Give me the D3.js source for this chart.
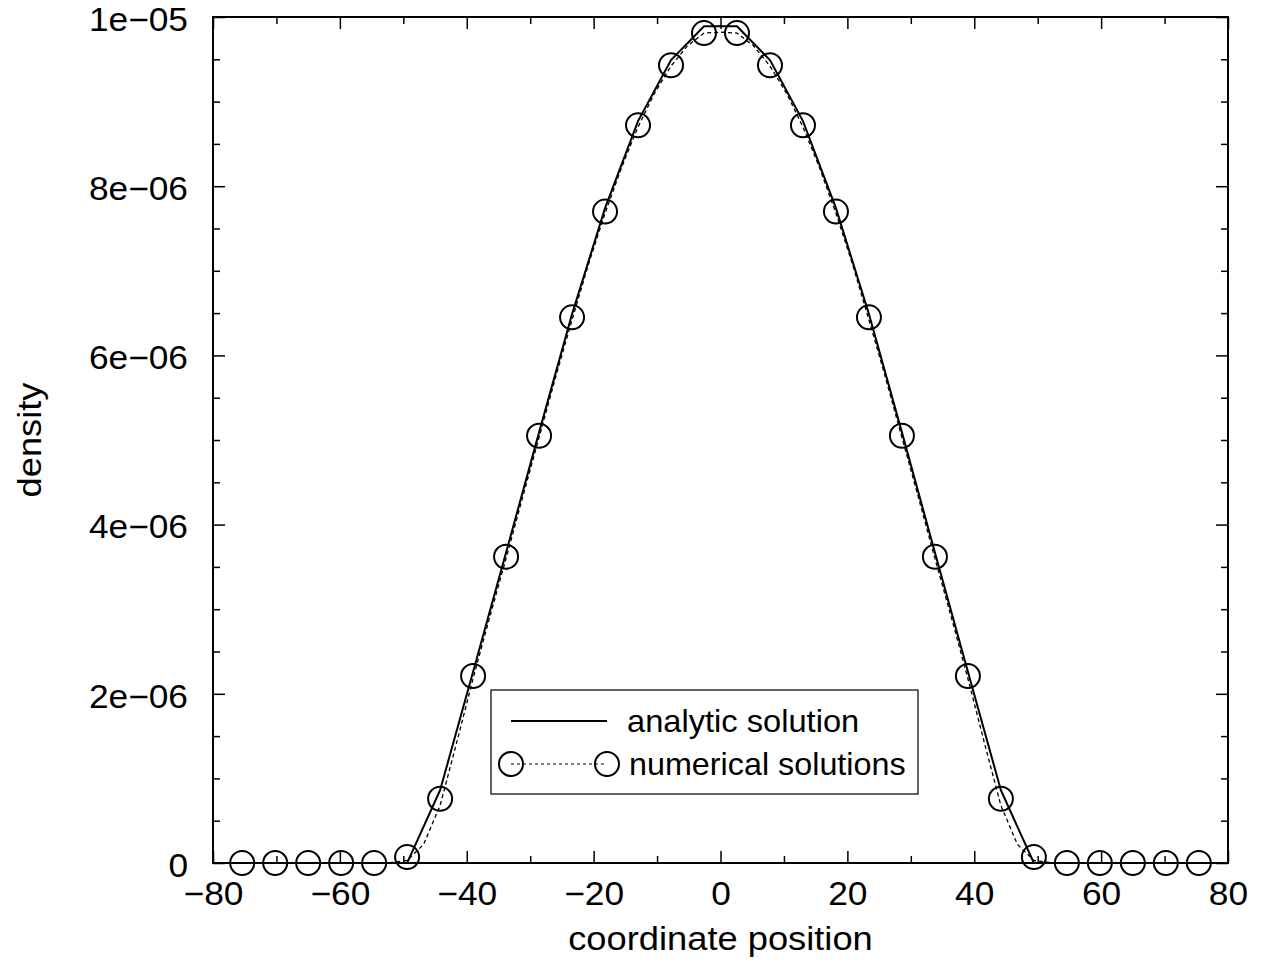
<!DOCTYPE html>
<html>
<head>
<meta charset="utf-8">
<script src="https://cdn.jsdelivr.net/npm/d3@7/dist/d3.min.js"></script>
<style>
  body { margin: 0; background: #fff; }
  svg text { font-family: "Liberation Sans", Arial, Helvetica, sans-serif; fill: #000; }
</style>
</head>
<body>
<div id="chart"></div>
<script>
// grid positions of the coarse numerical solution (circles)
const numX = [-75.4, -70.2, -65.0, -59.8, -54.6, -49.4, -44.2, -39.0, -33.8, -28.6, -23.4, -18.2, -13.0, -7.8, -2.6,
  2.6, 7.8, 13.0, 18.2, 23.4, 28.6, 33.8, 39.0, 44.2, 49.4, 54.6, 59.8, 65.0, 70.2, 75.4];
// density values (units of 1e-6)
const numY = [0, 0, 0, 0, 0, 0.07, 0.76, 2.21, 3.62, 5.05, 6.45, 7.70, 8.72, 9.43, 9.81,
  9.81, 9.43, 8.72, 7.70, 6.45, 5.05, 3.62, 2.21, 0.76, 0.07, 0, 0, 0, 0, 0];

// analytic solution, same grid
const anaY = [0, 0, 0, 0, 0, 0, 0.86, 2.26, 3.67, 5.09, 6.49, 7.74, 8.77, 9.49, 9.89,
  9.89, 9.49, 8.77, 7.74, 6.49, 5.09, 3.67, 2.26, 0.86, 0, 0, 0, 0, 0, 0];

// finer numerical solution (dashed)
const fineX = [-75.4, -54.6, -52.0, -49.4, -46.8, -44.2, -41.6, -39.0, -36.4, -33.8, -31.2, -28.6, -26.0, -23.4, -20.8,
  -18.2, -15.6, -13.0, -10.4, -7.8, -5.2, -2.6, 0, 2.6, 5.2, 7.8, 10.4, 13.0, 15.6, 18.2, 20.8, 23.4, 26.0,
  28.6, 31.2, 33.8, 36.4, 39.0, 41.6, 44.2, 46.8, 49.4, 52.0, 54.6, 75.4];
const fineY = [0, 0, 0.005, 0.03, 0.22, 0.68, 1.42, 2.18, 2.90, 3.60, 4.32, 5.03, 5.74, 6.42, 7.08,
  7.68, 8.22, 8.70, 9.10, 9.42, 9.66, 9.81, 9.82, 9.81, 9.66, 9.42, 9.10, 8.70, 8.22, 7.68, 7.08, 6.42, 5.74,
  5.03, 4.32, 3.60, 2.90, 2.18, 1.42, 0.68, 0.22, 0.03, 0.005, 0, 0];

const xMajor = [-80, -60, -40, -20, 0, 20, 40, 60, 80];
const xMajorLabels = ["\u221280", "\u221260", "\u221240", "\u221220", "0", "20", "40", "60", "80"];
const xMinor = [-70, -50, -30, -10, 10, 30, 50, 70];
const yMajor = [0, 2e-6, 4e-6, 6e-6, 8e-6, 1e-5];
const yMajorLabels = ["0", "2e\u221206", "4e\u221206", "6e\u221206", "8e\u221206", "1e\u221205"];
const yMinor = [0.5e-6, 1e-6, 1.5e-6, 2.5e-6, 3e-6, 3.5e-6, 4.5e-6, 5e-6, 5.5e-6, 6.5e-6, 7e-6, 7.5e-6,
  8.5e-6, 9e-6, 9.5e-6];

const width = 1263, height = 968;
const margin = { top: 17, right: 35, bottom: 105, left: 213 };
const iw = width - margin.left - margin.right;
const ih = height - margin.top - margin.bottom;
const fs = 33;
const stretch = 1.07; // the original font is a bit wider than Liberation Sans

const svg = d3.select('#chart').append('svg')
  .attr('width', width).attr('height', height);
const g = svg.append('g').attr('transform', `translate(${margin.left},${margin.top})`);

const x = d3.scaleLinear().domain([-80, 80]).range([0, iw]);
const y = d3.scaleLinear().domain([0, 1e-5]).range([ih, 0]);

function styleAxis(sel, labels) {
  sel.select('.domain').remove();
  sel.selectAll('.tick line').attr('stroke', '#000').attr('stroke-width', 1.5);
  if (!labels) { sel.selectAll('.tick text').remove(); return; }
  sel.selectAll('.tick text')
    .attr('font-size', fs).attr('font-family', null)
    .each(function () {
      const t = d3.select(this);
      const tx = +t.attr('x') || 0;
      t.attr('x', tx / stretch).attr('transform', `scale(${stretch},1)`);
    });
}

// bottom / left labelled ticks
g.append('g').attr('transform', `translate(0,${ih})`)
  .call(d3.axisBottom(x).tickValues(xMajor).tickSizeInner(-12).tickSizeOuter(0).tickPadding(19)
    .tickFormat((d, i) => xMajorLabels[i]))
  .call(s => styleAxis(s, true));
g.append('g').attr('transform', `translate(0,${ih})`)
  .call(d3.axisBottom(x).tickValues(xMinor).tickSizeInner(-7).tickSizeOuter(0))
  .call(s => styleAxis(s, false));
g.append('g')
  .call(d3.axisLeft(y).tickValues(yMajor).tickSizeInner(-12).tickSizeOuter(0).tickPadding(25)
    .tickFormat((d, i) => yMajorLabels[i]))
  .call(s => styleAxis(s, true))
  .call(s => s.selectAll('.tick text').attr('dy', '0.4em'));
g.append('g')
  .call(d3.axisLeft(y).tickValues(yMinor).tickSizeInner(-7).tickSizeOuter(0))
  .call(s => styleAxis(s, false));

// mirrored ticks top / right
g.append('g').call(d3.axisTop(x).tickValues(xMajor).tickSizeInner(-12).tickSizeOuter(0)).call(s => styleAxis(s, false));
g.append('g').call(d3.axisTop(x).tickValues(xMinor).tickSizeInner(-7).tickSizeOuter(0)).call(s => styleAxis(s, false));
g.append('g').attr('transform', `translate(${iw},0)`)
  .call(d3.axisRight(y).tickValues(yMajor).tickSizeInner(-12).tickSizeOuter(0)).call(s => styleAxis(s, false));
g.append('g').attr('transform', `translate(${iw},0)`)
  .call(d3.axisRight(y).tickValues(yMinor).tickSizeInner(-7).tickSizeOuter(0)).call(s => styleAxis(s, false));

const ana = numX.map((d, i) => ({ x: d, y: anaY[i] * 1e-6 }));
const fine = fineX.map((d, i) => ({ x: d, y: fineY[i] * 1e-6 }));
const num = numX.map((d, i) => ({ x: d, y: numY[i] * 1e-6 }));

const line = d3.line().x(d => x(d.x)).y(d => y(d.y));

// fine numerical (dashed) and analytic (solid)
g.append('path').datum(fine).attr('d', line)
  .attr('fill', 'none').attr('stroke', '#000').attr('stroke-width', 1.3).attr('stroke-dasharray', '4,3');
g.append('path').datum(ana).attr('d', line)
  .attr('fill', 'none').attr('stroke', '#000').attr('stroke-width', 2);

g.selectAll('circle.num').data(num).enter().append('circle')
  .attr('class', 'num')
  .attr('cx', d => x(d.x)).attr('cy', d => y(d.y)).attr('r', 12)
  .attr('fill', 'none').attr('stroke', '#000').attr('stroke-width', 2);

// frame
g.append('rect').attr('width', iw).attr('height', ih)
  .attr('fill', 'none').attr('stroke', '#000').attr('stroke-width', 2);

// axis titles
svg.append('text').attr('transform', `translate(${margin.left + iw / 2},950) scale(1.1,1)`)
  .attr('text-anchor', 'middle').attr('font-size', fs).text('coordinate position');
svg.append('text').attr('transform', `translate(41,${margin.top + ih / 2}) rotate(-90) scale(1.1,1)`)
  .attr('text-anchor', 'middle').attr('font-size', fs).text('density');

// legend
const lg = svg.append('g').attr('transform', 'translate(491,690)');
lg.append('rect').attr('width', 427).attr('height', 104)
  .attr('fill', '#fff').attr('stroke', '#000').attr('stroke-width', 1.2);
lg.append('line').attr('x1', 20).attr('x2', 116).attr('y1', 31).attr('y2', 31)
  .attr('stroke', '#000').attr('stroke-width', 2);
lg.append('text').attr('transform', 'translate(136,42) scale(1.02,1)').attr('font-size', 32).text('analytic solution');
lg.append('line').attr('x1', 20).attr('x2', 116).attr('y1', 74).attr('y2', 74)
  .attr('stroke', '#000').attr('stroke-width', 1).attr('stroke-dasharray', '3,3');
[20, 116].forEach(cx => lg.append('circle').attr('cx', cx).attr('cy', 74).attr('r', 12)
  .attr('fill', 'none').attr('stroke', '#000').attr('stroke-width', 2));
lg.append('text').attr('transform', 'translate(138,85) scale(1.01,1)').attr('font-size', 32).text('numerical solutions');
</script>
</body>
</html>
